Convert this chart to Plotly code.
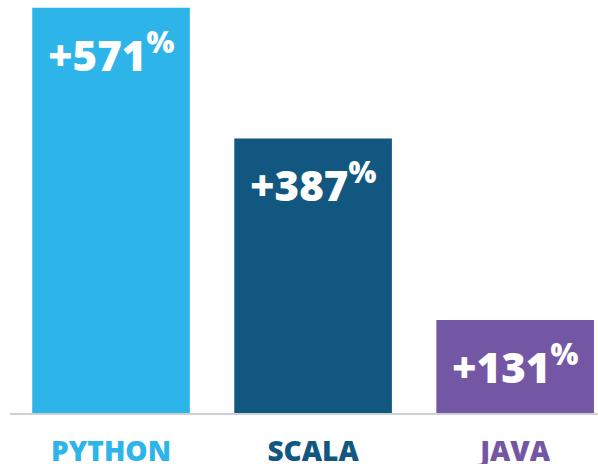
import plotly.graph_objects as go

# data
languages = ["PYTHON", "SCALA", "JAVA"]
growth = [571, 387, 131]
bar_colors = ["#2db4e8", "#11577f", "#7457a4"]

FONT = "Open Sans"

tick_text = [
    f"<span style='color:{c}'>{name}</span>" for name, c in zip(languages, bar_colors)
]

fig = go.Figure(go.Bar(
    x=languages,
    y=growth,
    width=0.78,
    marker_color=bar_colors,
    marker_line_width=0,
    hoverinfo="skip",
))

# value labels sit inside the top of each bar
for name, val in zip(languages, growth):
    fig.add_annotation(
        x=name, y=val,
        text=f"+{val}<sup>%</sup>",
        showarrow=False,
        yanchor="top",
        yshift=-12,
        font=dict(family=FONT, size=42, color="white", weight=800),
    )

fig.update_layout(
    width=598, height=464,
    margin=dict(t=0, b=51, l=10, r=0),
    paper_bgcolor="white",
    plot_bgcolor="white",
    showlegend=False,
    xaxis=dict(
        range=[-0.5, 2.41],
        tickmode="array",
        tickvals=languages,
        ticktext=tick_text,
        tickfont=dict(family=FONT, size=28, weight=800),
        ticklabelstandoff=12,
        automargin=False,
        showline=True, linecolor="#cfd0d6", linewidth=2,
        showgrid=False, ticks="",
    ),
    yaxis=dict(range=[0, 582], visible=False, automargin=False),
)

fig.write_html(
    "out.html",
    config={"displayModeBar": False},
    post_script="document.body.style.margin='0';",
)
